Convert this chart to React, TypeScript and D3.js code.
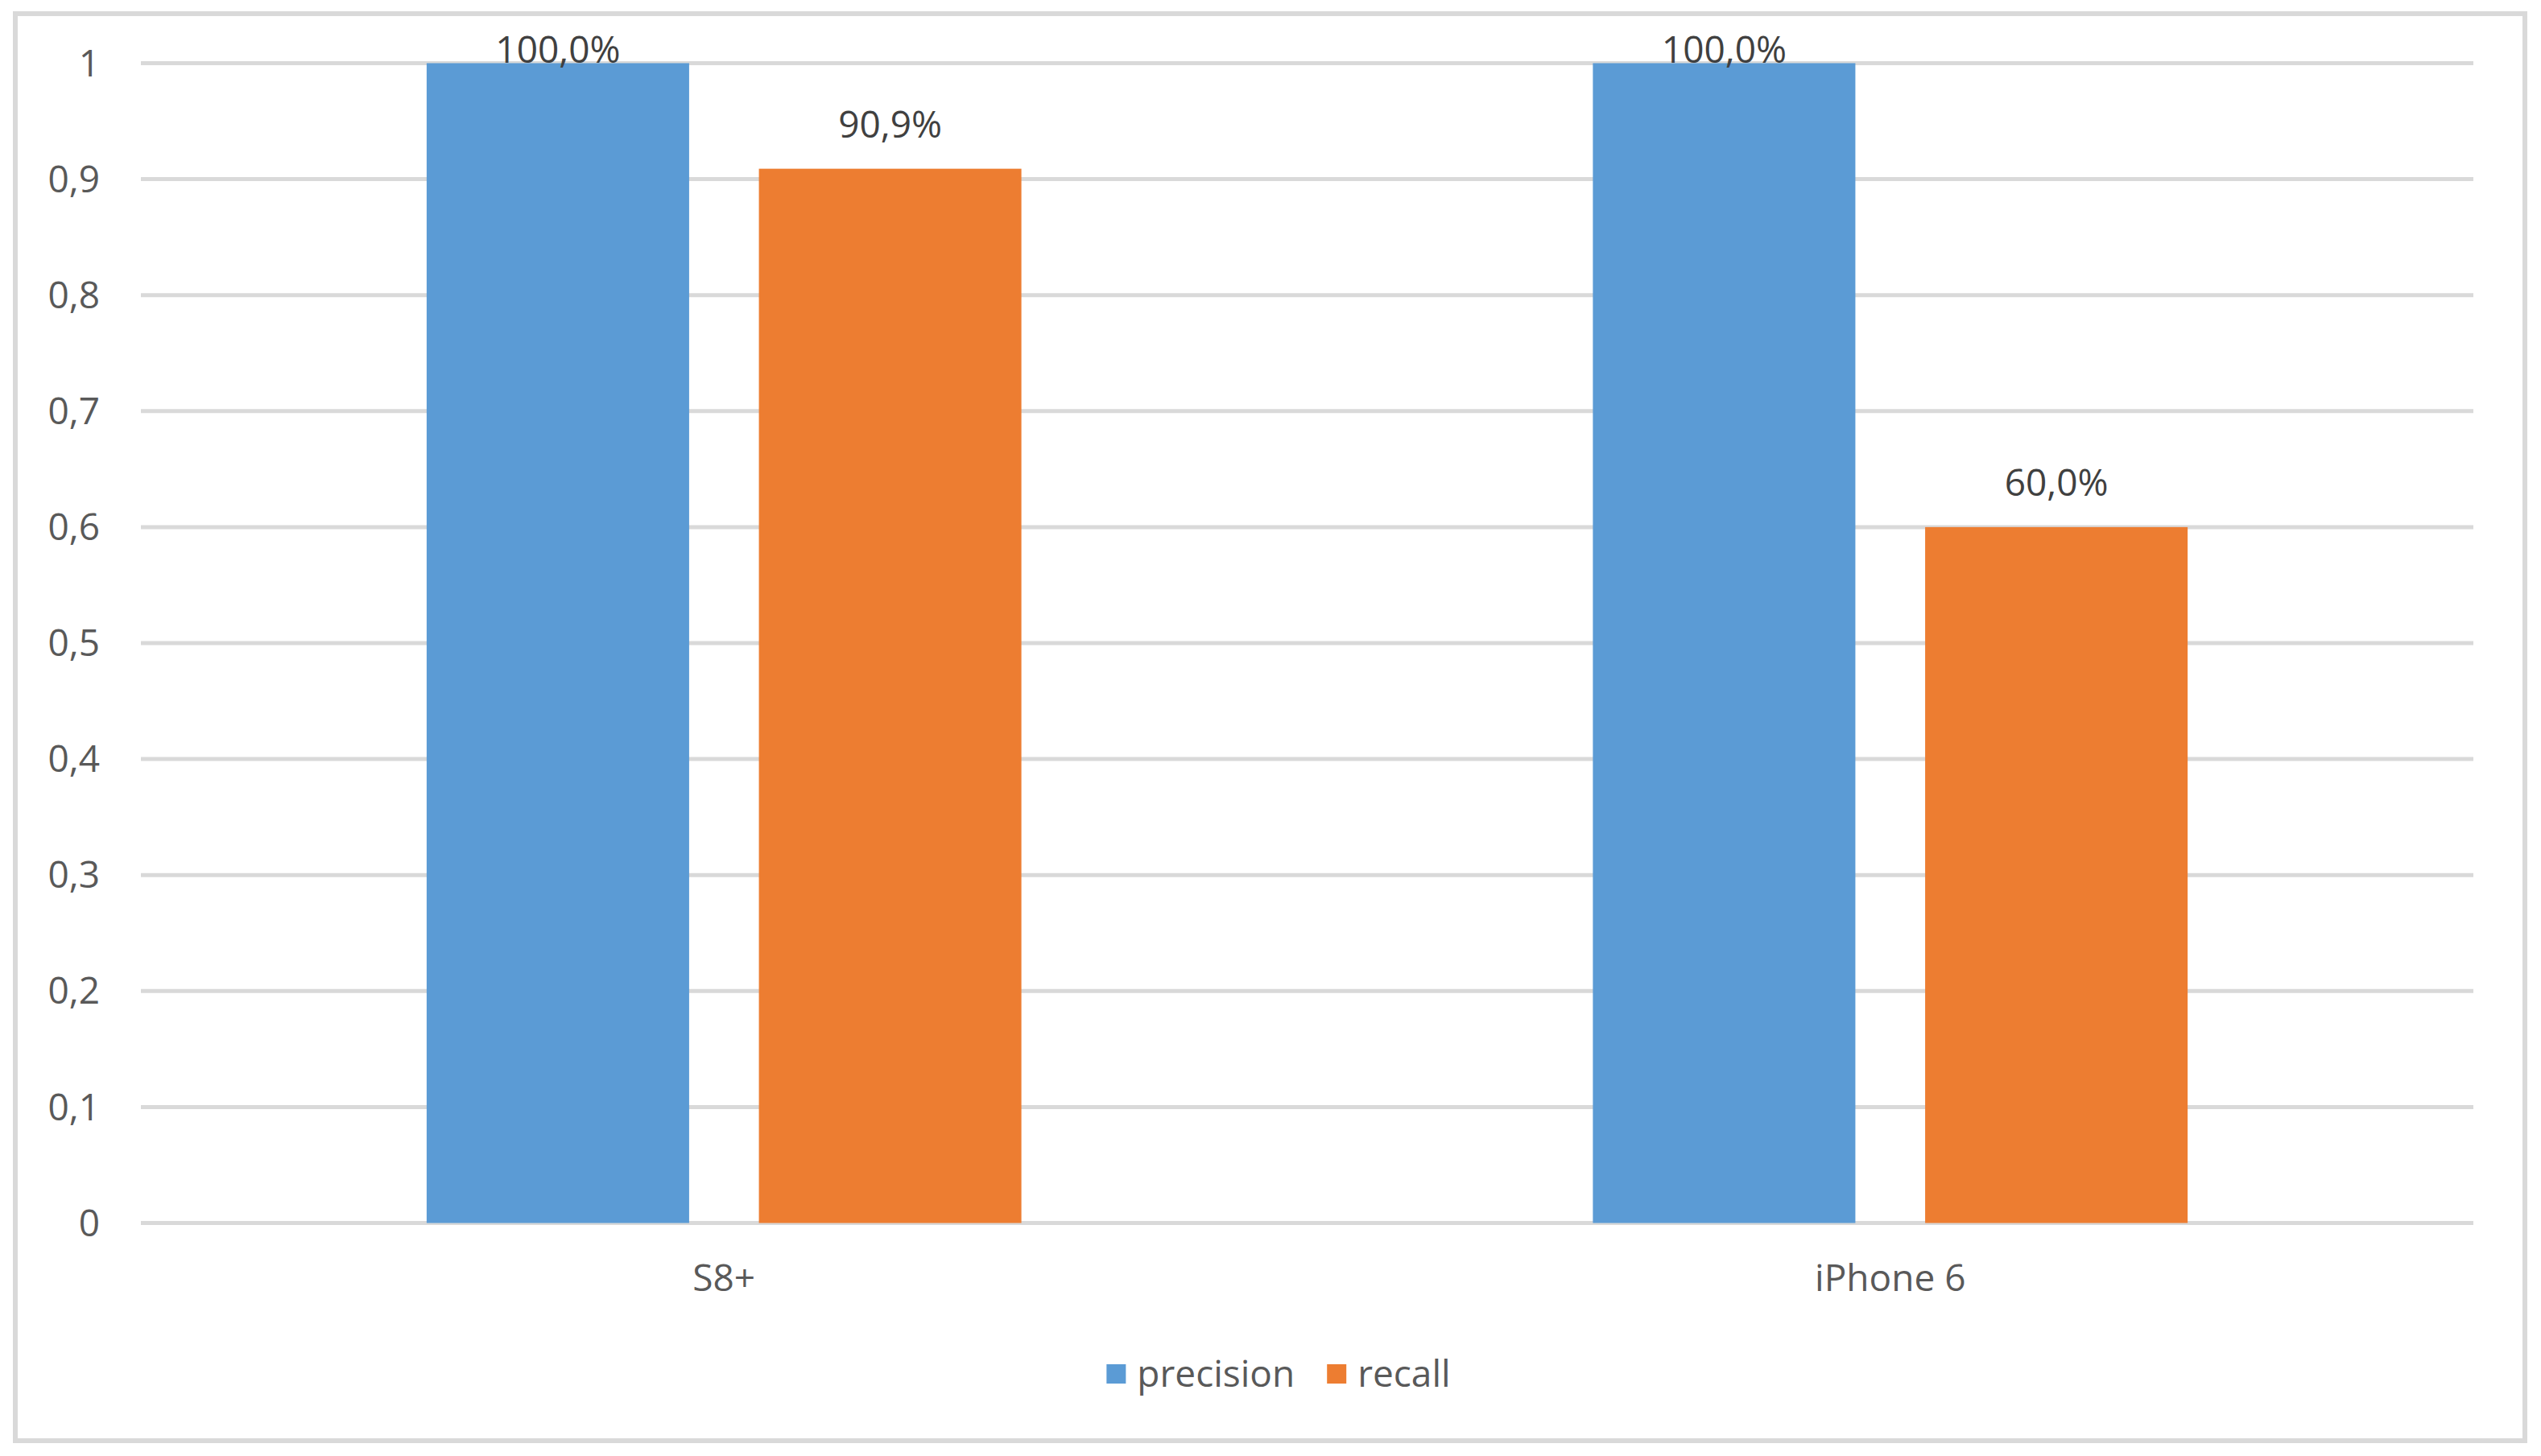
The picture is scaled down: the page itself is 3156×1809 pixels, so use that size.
import React, { useRef, useEffect } from "react";
import * as d3 from "d3";

// data
const categories = ["S8+", "iPhone 6"];
const seriesNames = ["precision", "recall"];
const precision = [1.0, 1.0];
const recall = [0.909, 0.6];
const yTicks = [0, 0.1, 0.2, 0.3, 0.4, 0.5, 0.6, 0.7, 0.8, 0.9, 1];

const colors = ["#5B9BD5", "#ED7D31"];

function App() {
  const svgRef = useRef<SVGSVGElement>(null);

  useEffect(() => {
    const width = 3156,
      height = 1809;
    const plot = { left: 175, right: 3072, top: 78.5, bottom: 1519.5 };
    const font = "'Open Sans', 'Noto Sans', sans-serif";
    const fontSize = 46;

    const locale = d3.formatLocale({
      decimal: ",",
      thousands: ".",
      grouping: [3],
      currency: ["", " €"],
    });
    const tickFmt = locale.format(".1~f");
    const pctFmt = locale.format(".1%");

    const svg = d3.select(svgRef.current);
    svg.selectAll("*").remove();

    svg
      .append("rect")
      .attr("width", width)
      .attr("height", height)
      .attr("fill", "#ffffff");

    // chart border
    svg
      .append("rect")
      .attr("x", 19)
      .attr("y", 17)
      .attr("width", 3136 - 19)
      .attr("height", 1790 - 17)
      .attr("fill", "none")
      .attr("stroke", "#d9d9d9")
      .attr("stroke-width", 6);

    const y = d3.scaleLinear().domain([0, 1]).range([plot.bottom, plot.top]);

    const x0 = d3
      .scaleBand<string>()
      .domain(categories)
      .range([plot.left, plot.right])
      .padding(0);

    const x1 = d3
      .scaleBand<string>()
      .domain(seriesNames)
      .range([0, x0.bandwidth()])
      .paddingInner(0.21)
      .paddingOuter(0.86);

    // gridlines
    svg
      .append("g")
      .selectAll("line")
      .data(yTicks)
      .join("line")
      .attr("x1", plot.left)
      .attr("x2", plot.right)
      .attr("y1", (d) => y(d))
      .attr("y2", (d) => y(d))
      .attr("stroke", "#d9d9d9")
      .attr("stroke-width", 5);

    // y labels
    svg
      .append("g")
      .selectAll("text")
      .data(yTicks)
      .join("text")
      .attr("x", 124)
      .attr("y", (d) => y(d))
      .attr("dy", "0.35em")
      .attr("text-anchor", "end")
      .attr("font-family", font)
      .attr("font-size", fontSize)
      .attr("fill", "#595959")
      .text((d) => tickFmt(d));

    const rows = categories.map((c, i) => ({
      cat: c,
      values: [
        { key: seriesNames[0], value: precision[i] },
        { key: seriesNames[1], value: recall[i] },
      ],
    }));

    const groups = svg
      .append("g")
      .selectAll("g")
      .data(rows)
      .join("g")
      .attr("transform", (d) => `translate(${x0(d.cat)},0)`);

    groups
      .selectAll("rect")
      .data((d) => d.values)
      .join("rect")
      .attr("x", (d) => x1(d.key)!)
      .attr("width", x1.bandwidth())
      .attr("y", (d) => y(d.value))
      .attr("height", (d) => y(0) - y(d.value))
      .attr("fill", (d, i) => colors[i]);

    // data labels (Excel keeps them inside the chart area)
    groups
      .selectAll("text")
      .data((d) => d.values)
      .join("text")
      .attr("x", (d) => x1(d.key)! + x1.bandwidth() / 2)
      .attr("y", (d) => Math.max(y(d.value) - 39, plot.top - 1))
      .attr("text-anchor", "middle")
      .attr("font-family", font)
      .attr("font-size", fontSize)
      .attr("fill", "#404040")
      .text((d) => pctFmt(d.value));

    // x labels
    svg
      .append("g")
      .selectAll("text")
      .data(categories)
      .join("text")
      .attr("x", (d) => x0(d)! + x0.bandwidth() / 2)
      .attr("y", 1604)
      .attr("text-anchor", "middle")
      .attr("font-family", font)
      .attr("font-size", fontSize)
      .attr("fill", "#595959")
      .text((d) => d);

    // legend
    const legend = svg.append("g");
    const items = legend
      .selectAll("g")
      .data(seriesNames)
      .join("g");
    items
      .append("rect")
      .attr("width", 24)
      .attr("height", 24)
      .attr("y", 1695)
      .attr("fill", (d, i) => colors[i]);
    items
      .append("text")
      .attr("x", 38)
      .attr("y", 1707)
      .attr("dy", "0.35em")
      .attr("font-family", font)
      .attr("font-size", fontSize)
      .attr("fill", "#595959")
      .text((d) => d);

    let offset = 0;
    const widths: number[] = [];
    items.each(function () {
      const t = d3.select(this).select("text").node() as SVGTextElement;
      widths.push(38 + t.getComputedTextLength());
    });
    const gap = 40;
    const total = d3.sum(widths) + gap * (widths.length - 1);
    const start = 1588 - total / 2;
    items.attr("transform", (d, i) => {
      const tx = start + offset;
      offset += widths[i] + gap;
      return `translate(${tx},0)`;
    });
  }, []);

  return (
    <svg
      ref={svgRef}
      width={3156}
      height={1809}
      style={{ position: "absolute", left: 0, top: 0 }}
    />
  );
}

export default App;
